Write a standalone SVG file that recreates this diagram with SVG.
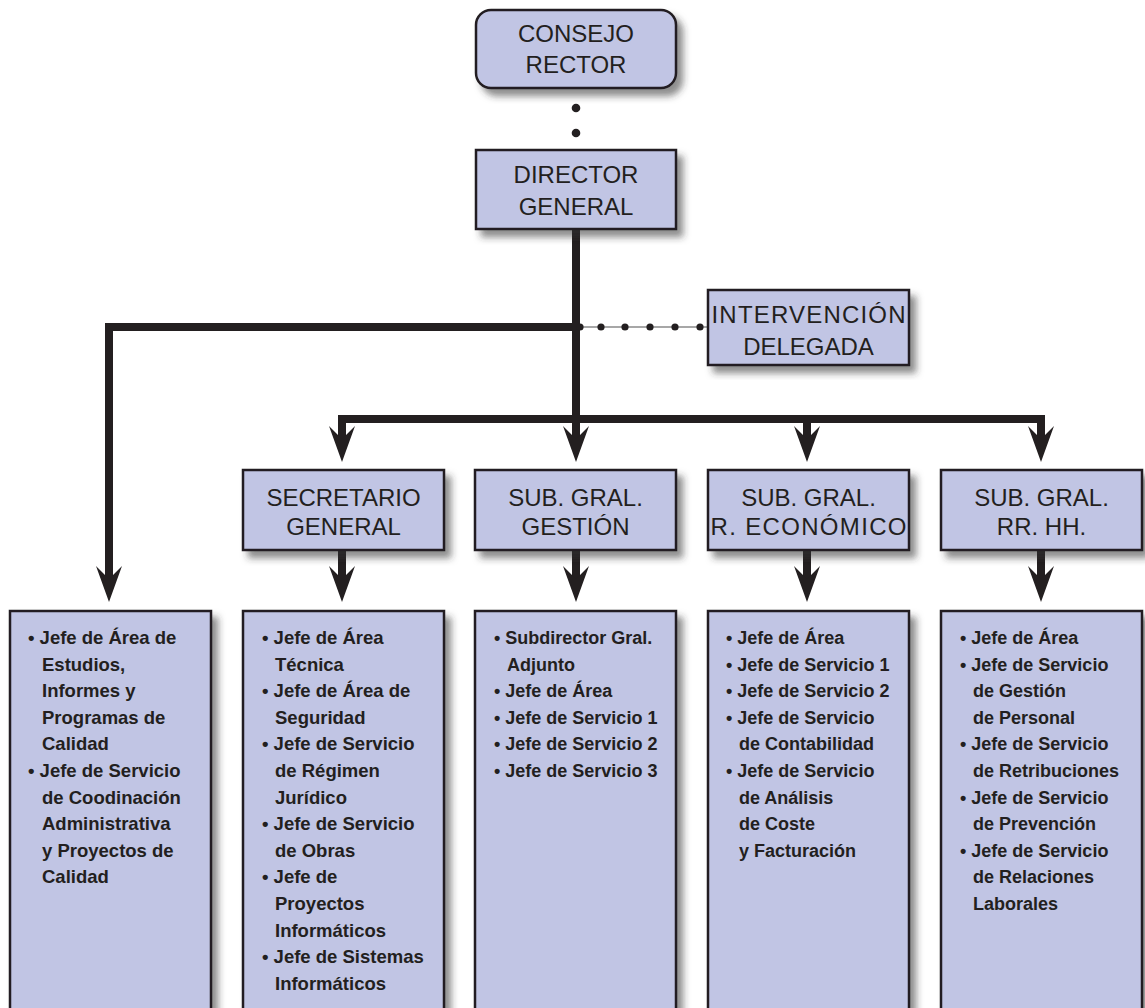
<svg xmlns="http://www.w3.org/2000/svg" width="1145" height="1008" viewBox="0 0 1145 1008">
<defs>
<filter id="sh" x="-10%" y="-10%" width="130%" height="130%">
<feDropShadow dx="6" dy="7" stdDeviation="3.5" flood-color="#333" flood-opacity="0.55"/>
</filter>
<marker id="ah" viewBox="0 -14 38 28" refX="20" refY="0" markerWidth="38" markerHeight="28" markerUnits="userSpaceOnUse" orient="auto">
<path d="M36,0 L0,-13 L13,0 L0,13 Z" fill="#231f20"/>
</marker>
</defs>
<style>
.box{fill:#c1c5e4;stroke:#231f20;stroke-width:2.5;filter:url(#sh)}
.t{font-family:"Liberation Sans",Arial,sans-serif;font-size:24px;fill:#231f20;text-anchor:middle}
.l{font-family:"Liberation Sans",Arial,sans-serif;font-size:18.5px;font-weight:bold;fill:#231f20}
.s{font-size:18px}
.c{fill:none;stroke:#231f20;stroke-width:8;stroke-linecap:square}
.ca{fill:none;stroke:#231f20;stroke-width:8;marker-end:url(#ah)}
.dot{fill:#231f20}
</style>
<g id="connectors">
<circle class="dot" cx="576" cy="108" r="4.3"/>
<circle class="dot" cx="576" cy="133" r="4.3"/>
<line x1="576" y1="229" x2="576" y2="446" class="ca" stroke-width="7"/>
<path class="ca" d="M576,327 L109,327 L109,586"/>
<line class="c" x1="342" y1="419" x2="1041" y2="419"/>
<line class="ca" x1="342" y1="419" x2="342" y2="446"/>
<line class="ca" x1="807" y1="419" x2="807" y2="446"/>
<line class="ca" x1="1041" y1="419" x2="1041" y2="446"/>
<line class="ca" x1="342" y1="550" x2="342" y2="586"/>
<line class="ca" x1="576" y1="550" x2="576" y2="586"/>
<line class="ca" x1="807" y1="550" x2="807" y2="586"/>
<line class="ca" x1="1041" y1="550" x2="1041" y2="586"/>
<line x1="580" y1="327" x2="708" y2="327" stroke="#8a8a8a" stroke-width="1.6"/>
<circle class="dot" cx="580" cy="327" r="3.6"/>
<circle class="dot" cx="601" cy="327" r="3.6"/>
<circle class="dot" cx="625" cy="327" r="3.6"/>
<circle class="dot" cx="650" cy="327" r="3.6"/>
<circle class="dot" cx="675" cy="327" r="3.6"/>
<circle class="dot" cx="700" cy="327" r="3.6"/>
</g>
<g id="consejo">
<rect class="box" x="476" y="10" width="200" height="78" rx="15"/>
<text class="t" x="576" y="42">CONSEJO</text>
<text class="t" x="576" y="73">RECTOR</text>
</g>
<g id="director">
<rect class="box" x="476" y="150" width="200" height="79"/>
<text class="t" x="576" y="183">DIRECTOR</text>
<text class="t" x="576" y="215">GENERAL</text>
</g>
<g id="intervencion">
<rect class="box" x="708" y="290" width="201" height="75"/>
<text class="t" x="808.5" y="323" textLength="194">INTERVENCIÓN</text>
<text class="t" x="808.5" y="355">DELEGADA</text>
</g>
<g id="secretario">
<rect class="box" x="243" y="470" width="201" height="80"/>
<text class="t" x="343.5" y="506">SECRETARIO</text>
<text class="t" x="343.5" y="535">GENERAL</text>
</g>
<g id="gestion">
<rect class="box" x="475" y="470" width="201" height="80"/>
<text class="t" x="575.5" y="506">SUB. GRAL.</text>
<text class="t" x="575.5" y="535">GESTIÓN</text>
</g>
<g id="economico">
<rect class="box" x="708" y="470" width="201" height="80"/>
<text class="t" x="808.5" y="506">SUB. GRAL.</text>
<text class="t" x="808.5" y="535" textLength="196">R. ECONÓMICO</text>
</g>
<g id="rrhh">
<rect class="box" x="941" y="470" width="201" height="80"/>
<text class="t" x="1041.5" y="506">SUB. GRAL.</text>
<text class="t" x="1041.5" y="535">RR. HH.</text>
</g>
<g id="list-calidad">
<rect class="box" x="10" y="611" width="201" height="420"/>
<text class="l" x="28" y="644">• Jefe de Área de</text>
<text class="l" x="42" y="670.6">Estudios,</text>
<text class="l" x="42" y="697.2">Informes y</text>
<text class="l" x="42" y="723.8">Programas de</text>
<text class="l" x="42" y="750.4">Calidad</text>
<text class="l" x="28" y="777">• Jefe de Servicio</text>
<text class="l" x="42" y="803.6">de Coodinación</text>
<text class="l" x="42" y="830.2">Administrativa</text>
<text class="l" x="42" y="856.8">y Proyectos de</text>
<text class="l" x="42" y="883.4">Calidad</text>
</g>
<g id="list-secretario">
<rect class="box" x="243" y="611" width="201" height="420"/>
<text class="l" x="262" y="644">• Jefe de Área</text>
<text class="l" x="275" y="670.6">Técnica</text>
<text class="l" x="262" y="697.2">• Jefe de Área de</text>
<text class="l" x="275" y="723.8">Seguridad</text>
<text class="l" x="262" y="750.4">• Jefe de Servicio</text>
<text class="l" x="275" y="777">de Régimen</text>
<text class="l" x="275" y="803.6">Jurídico</text>
<text class="l" x="262" y="830.2">• Jefe de Servicio</text>
<text class="l" x="275" y="856.8">de Obras</text>
<text class="l" x="262" y="883.4">• Jefe de</text>
<text class="l" x="275" y="910">Proyectos</text>
<text class="l" x="275" y="936.6">Informáticos</text>
<text class="l" x="262" y="963.2">• Jefe de Sistemas</text>
<text class="l" x="275" y="989.8">Informáticos</text>
</g>
<g id="list-gestion">
<rect class="box" x="475" y="611" width="201" height="420"/>
<text class="l s" x="494" y="644">• Subdirector Gral.</text>
<text class="l s" x="507" y="670.6">Adjunto</text>
<text class="l s" x="494" y="697.2">• Jefe de Área</text>
<text class="l s" x="494" y="723.8">• Jefe de Servicio 1</text>
<text class="l s" x="494" y="750.4">• Jefe de Servicio 2</text>
<text class="l s" x="494" y="777">• Jefe de Servicio 3</text>
</g>
<g id="list-economico">
<rect class="box" x="708" y="611" width="201" height="420"/>
<text class="l s" x="726" y="644">• Jefe de Área</text>
<text class="l s" x="726" y="670.6">• Jefe de Servicio 1</text>
<text class="l s" x="726" y="697.2">• Jefe de Servicio 2</text>
<text class="l s" x="726" y="723.8">• Jefe de Servicio</text>
<text class="l s" x="739" y="750.4">de Contabilidad</text>
<text class="l s" x="726" y="777">• Jefe de Servicio</text>
<text class="l s" x="739" y="803.6">de Análisis</text>
<text class="l s" x="739" y="830.2">de Coste</text>
<text class="l s" x="739" y="856.8">y Facturación</text>
</g>
<g id="list-rrhh">
<rect class="box" x="941" y="611" width="201" height="420"/>
<text class="l s" x="960" y="644">• Jefe de Área</text>
<text class="l s" x="960" y="670.6">• Jefe de Servicio</text>
<text class="l s" x="973" y="697.2">de Gestión</text>
<text class="l s" x="973" y="723.8">de Personal</text>
<text class="l s" x="960" y="750.4">• Jefe de Servicio</text>
<text class="l s" x="973" y="777">de Retribuciones</text>
<text class="l s" x="960" y="803.6">• Jefe de Servicio</text>
<text class="l s" x="973" y="830.2">de Prevención</text>
<text class="l s" x="960" y="856.8">• Jefe de Servicio</text>
<text class="l s" x="973" y="883.4">de Relaciones</text>
<text class="l s" x="973" y="910">Laborales</text>
</g>
</svg>
